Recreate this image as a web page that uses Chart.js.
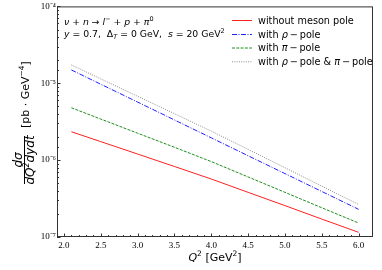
<!DOCTYPE html>
<html><head><meta charset="utf-8">
<script src="https://cdn.jsdelivr.net/npm/chart.js@4.4.0/dist/chart.umd.min.js"></script>
<style>html,body{margin:0;padding:0;background:#fff}canvas{display:block}</style>
</head><body>
<canvas id="c" width="382" height="270"></canvas>
<script>
// ---- data ----
const q2 = [2.1, 2.5, 3.0, 3.5, 4.0, 4.5, 5.0, 5.5, 6.0];
const withoutPole = [2.34e-6, 1.74e-6, 1.20e-6, 8.26e-7, 5.68e-7, 3.81e-7, 2.56e-7, 1.71e-7, 1.15e-7];
const withRho     = [1.49e-5, 9.71e-6, 5.69e-6, 3.33e-6, 1.95e-6, 1.14e-6, 6.68e-7, 3.91e-7, 2.29e-7];
const withPi      = [4.80e-6, 3.42e-6, 2.24e-6, 1.47e-6, 9.57e-7, 6.04e-7, 3.81e-7, 2.40e-7, 1.52e-7];
const withBoth    = [1.73e-5, 1.14e-5, 6.77e-6, 4.02e-6, 2.38e-6, 1.38e-6, 7.96e-7, 4.59e-7, 2.65e-7];
const seriesNames = ['without meson pole', 'with ρ − pole', 'with π − pole', 'with ρ − pole & π − pole'];
const xTickValues = [2.0, 2.5, 3.0, 3.5, 4.0, 4.5, 5.0, 5.5, 6.0];
const xTickLabels = ['2.0', '2.5', '3.0', '3.5', '4.0', '4.5', '5.0', '5.5', '6.0'];
const yTickLabels = ['10⁻⁷', '10⁻⁶', '10⁻⁵', '10⁻⁴'];

const colors = ['#ff2020', '#2020ff', '#1f8f1f', '#8a8a8a'];
const dashes = [[], [5, 1.5, 1, 1.5], [3, 1.3], [1, 1.3]];
const seriesData = [withoutPole, withRho, withPi, withBoth];

const SANS = '"DejaVu Sans"';
const SERIF = '"Liberation Serif"';
const N = s => `${s}px ${SANS}`;
const I = s => `italic ${s}px ${SANS}`;

function drawParts(ctx, parts, x, y, align) {
  let w = 0;
  parts.forEach(p => { ctx.font = p[1]; w += ctx.measureText(p[0]).width; });
  let cx = align === 'center' ? x - w / 2 : x;
  ctx.textAlign = 'left';
  parts.forEach(p => {
    ctx.font = p[1];
    ctx.fillText(p[0], cx, y + (p[2] || 0));
    cx += ctx.measureText(p[0]).width;
  });
  return w;
}
function richName(name, size) {
  const parts = [];
  const disp = name.replace(/ − /g, '\u2009−\u2009');
  for (const ch of disp) {
    const f = /[ρπ]/.test(ch) ? I(size) : N(size);
    if (parts.length && parts[parts.length - 1][1] === f) parts[parts.length - 1][0] += ch;
    else parts.push([ch, f]);
  }
  return parts;
}

const decor = {
  id: 'decor',
  afterDraw(chart) {
    const ctx = chart.ctx, a = chart.chartArea;
    const xs = chart.scales.x, ys = chart.scales.y;
    ctx.save();
    // frame
    ctx.strokeStyle = '#333'; ctx.lineWidth = 1;
    ctx.strokeRect(a.left + 0.5, a.top + 0.5, a.right - a.left - 1, a.bottom - a.top - 1);
    // inward ticks
    ctx.beginPath();
    xs.ticks.forEach(t => {
      const px = Math.round(xs.getPixelForValue(t.value)) + 0.5;
      const major = Math.abs(t.value * 2 - Math.round(t.value * 2)) < 1e-6;
      const L = major ? 3.5 : 2;
      ctx.moveTo(px, a.bottom); ctx.lineTo(px, a.bottom - L);
    });
    ys.ticks.forEach(t => {
      const py = Math.round(ys.getPixelForValue(t.value)) + 0.5;
      const l = Math.log10(t.value);
      const major = Math.abs(l - Math.round(l)) < 1e-6;
      const L = major ? 3.5 : 2;
      ctx.moveTo(a.left, py); ctx.lineTo(a.left + L, py);
    });
    ctx.stroke();

    ctx.fillStyle = '#000';
    ctx.textBaseline = 'alphabetic';
    // annotations
    const s = 9.3, ss = 6.5;
    drawParts(ctx, [['ν', I(s)], [' + ', N(s)], ['n', I(s)], [' → ', N(s)], ['l', I(s)], ['−', N(ss), -4],
      [' + ', N(s)], ['p', I(s)], [' + ', N(s)], ['π', I(s)], ['0', N(ss), -4]], 64, 25);
    drawParts(ctx, [['y', I(s)], [' = 0.7,  Δ', N(s)], ['T', I(ss), 2], [' = 0 GeV,  ', N(s)], ['s', I(s)],
      [' = 20 GeV', N(s)], ['2', N(ss), -4]], 64, 37);

    // legend
    const rows = [20, 34, 47.5, 61.3];
    seriesNames.forEach((nm, i) => {
      ctx.strokeStyle = colors[i]; ctx.lineWidth = 1; ctx.setLineDash(dashes[i]);
      ctx.beginPath(); ctx.moveTo(232, rows[i] + 0.5); ctx.lineTo(252, rows[i] + 0.5); ctx.stroke();
      ctx.setLineDash([]);
      drawParts(ctx, richName(nm, 9.7), 258, rows[i] + 3.5);
    });

    // x title
    drawParts(ctx, [['Q', I(11)], ['2', N(7.5), -5], [' [GeV', N(11)], ['2', N(7.5), -5], [']', N(11)]], 215, 261, 'center');

    // y title (rotated)
    ctx.save();
    ctx.translate(24.5, 160);
    ctx.rotate(-Math.PI / 2);
    drawParts(ctx, [['dσ', I(12)]], 0, -2.5, 'center');
    drawParts(ctx, [['dQ', I(12)], ['2', I(8), -5], ['dydt', I(12)]], 0, 9.5, 'center');
    ctx.fillRect(-24, -0.5, 48, 1);
    drawParts(ctx, [['[pb · GeV', N(11)], ['−4', N(7.5), -5], [']', N(11)]], 32, 4.5);
    ctx.restore();

    ctx.restore();
  }
};

new Chart(document.getElementById('c'), {
  type: 'line',
  data: {
    datasets: seriesData.map((arr, i) => ({
      label: seriesNames[i],
      data: q2.map((q, k) => ({ x: q, y: arr[k] })),
      borderColor: colors[i],
      borderWidth: 1,
      borderDash: dashes[i],
      pointRadius: 0,
      fill: false,
      tension: 0
    }))
  },
  options: {
    responsive: false,
    animation: false,
    devicePixelRatio: 1,
    layout: { padding: { top: 5, right: 9, left: 0, bottom: 0 } },
    plugins: { legend: { display: false }, tooltip: { enabled: false } },
    scales: {
      x: {
        type: 'linear', min: 1.905, max: 6.195,
        afterFit: s => { s.height = 33; },
        afterBuildTicks: s => {
          const t = [];
          for (let k = 20; k <= 60; k++) t.push({ value: k / 10 });
          s.ticks = t;
        },
        grid: { display: false, drawTicks: false },
        border: { display: false },
        ticks: {
          autoSkip: false, maxRotation: 0, padding: 3,
          color: '#000', font: { family: SERIF, size: 9 },
          callback: v => {
            const idx = xTickValues.findIndex(x => Math.abs(x - v) < 1e-6);
            return idx >= 0 ? xTickLabels[idx] : '';
          }
        }
      },
      y: {
        type: 'logarithmic', min: 1e-7, max: 1e-4,
        afterFit: s => { s.width = 57; },
        grid: { display: false, drawTicks: false },
        border: { display: false },
        ticks: {
          autoSkip: false, padding: 1, color: '#000', font: { family: SERIF, size: 9 },
          callback: v => {
            const l = Math.log10(v);
            return Math.abs(l - Math.round(l)) < 1e-6 ? yTickLabels[Math.round(l) + 7] : '';
          }
        }
      }
    }
  },
  plugins: [decor]
});
</script>
</body></html>
